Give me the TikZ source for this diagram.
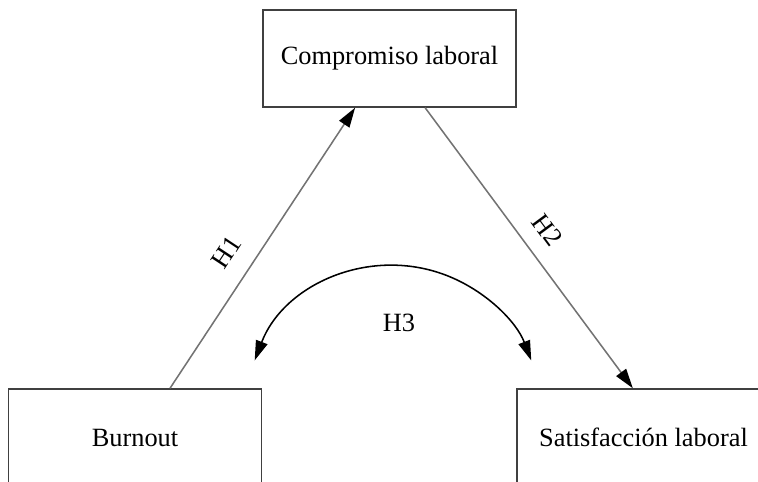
\documentclass[tikz,border=0pt]{standalone}
\usepackage{fontspec}
\setmainfont{Liberation Serif}
\usetikzlibrary{arrows.meta, calc}

\begin{document}
\begin{tikzpicture}[
    factor/.style={rectangle, draw=black!75, line width=0.7pt, fill=white, minimum width=4.05cm, minimum height=1.55cm, align=center, font=\fontsize{12}{14}\selectfont},
    link/.style={draw=black!55, line width=0.7pt, -{Triangle[length=9pt, width=5.5pt, color=black]}},
    swing/.style={draw=black, line width=0.7pt, {Triangle[length=9pt, width=5.5pt]}-{Triangle[length=9pt, width=5.5pt]}},
    hlabel/.style={font=\fontsize{12}{14}\selectfont}
]
\clip (0,0) rectangle (12.128,7.712);

\node[factor] (CL) at (6.232,6.776) {Compromiso laboral};
\node[factor] (BU) at (2.16,0.712) {Burnout};
\node[factor] (SL) at (10.296,0.712) {Satisfacción laboral};

\draw[link] ($(BU.north)+(0.56,0)$) -- node[hlabel, sloped, above=5pt, pos=0.43] (h1) {H1} ($(CL.south)+(-0.55,0)$);
\draw[link] ($(CL.south)+(0.57,0)$) -- node[hlabel, sloped, above=4pt, pos=0.49] (h2) {H2} ($(SL.north)+(-0.17,0)$);

% H3 between both ends
\coordinate (arcL) at (4.075,1.945);
\draw[swing] (arcL) arc[start angle=159, end angle=21, radius=2.37];
\node[hlabel] (h3) at (6.384,2.544) {H3};

\end{tikzpicture}
\end{document}
